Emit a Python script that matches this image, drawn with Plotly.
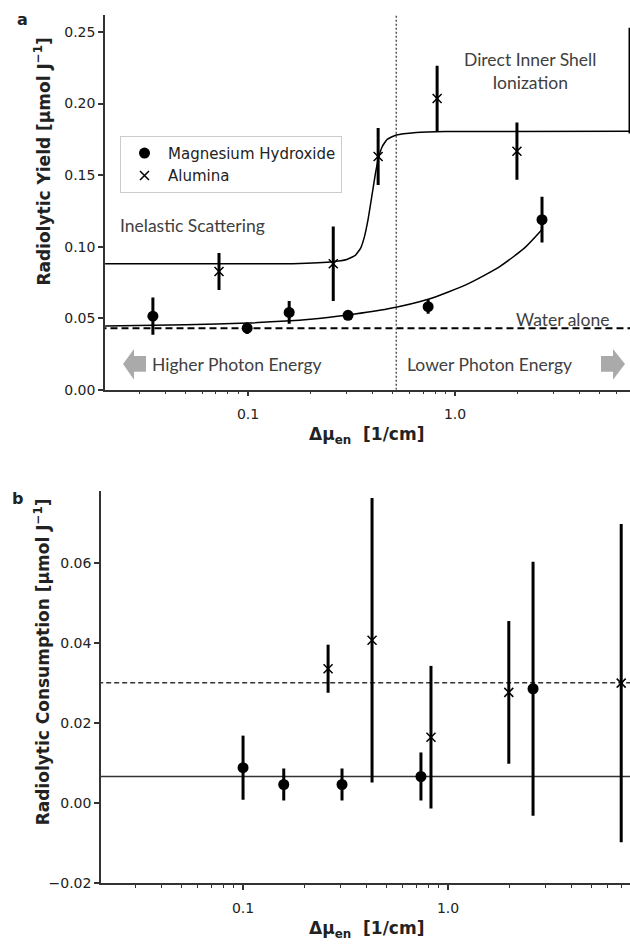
import plotly.graph_objects as go

W, H = 630, 947

# ---------------- data (panel a) ----------------
mg_x = [0.0347, 0.099, 0.158, 0.304, 0.741, 2.63]
mg_y = [0.0514, 0.043, 0.054, 0.052, 0.058, 0.1188]
mg_err = [0.013, 0.004, 0.008, 0.002, 0.005, 0.016]

al_x = [0.0724, 0.258, 0.425, 0.819, 1.99, 7.0]
al_y = [0.0826, 0.088, 0.163, 0.2035, 0.1667, 0.216]
al_err = [0.013, 0.026, 0.020, 0.023, 0.020, 0.037]

al_fit_x = [0.0204, 0.15, 0.25, 0.30, 0.33, 0.35, 0.365, 0.38, 0.395, 0.41, 0.425, 0.445, 0.47, 0.52, 0.65, 0.9, 7.0]
al_fit_y = [0.088, 0.088, 0.0893, 0.091, 0.094, 0.099, 0.107, 0.119, 0.134, 0.149, 0.161, 0.170, 0.175, 0.178, 0.1798, 0.1805, 0.1806]

mg_fit_x = [0.0204, 0.05, 0.1, 0.2, 0.304, 0.475, 0.741, 1.14, 1.65, 2.18, 2.63]
mg_fit_y = [0.0445, 0.0453, 0.0466, 0.0492, 0.0522, 0.0565, 0.0632, 0.0736, 0.0862, 0.0995, 0.1120]

water_y = 0.043
edge_x = 0.52

# ---------------- data (panel b) ----------------
mgb_x = [0.1, 0.158, 0.304, 0.738, 2.6]
mgb_y = [0.0089, 0.0047, 0.0047, 0.0067, 0.0286]
mgb_err = [0.008, 0.004, 0.004, 0.006, 0.0317]

alb_x = [0.26, 0.426, 0.826, 1.98, 7.0]
alb_y = [0.0336, 0.0407, 0.0165, 0.0277, 0.030]
alb_err = [0.006, 0.0355, 0.0178, 0.0178, 0.0397]

mgb_mean = 0.0067
alb_mean = 0.0301

line_x = [0.015, 10.0]

x_tickvals = [0.1, 1.0]
x_ticktext = ["0.1", "1.0"]
x_minor = [0.02, 0.03, 0.04, 0.05, 0.06, 0.07, 0.08, 0.09,
           0.2, 0.3, 0.4, 0.5, 0.6, 0.7, 0.8, 0.9,
           2, 3, 4, 5, 6, 7]
ya_ticks = [0.0, 0.05, 0.10, 0.15, 0.20, 0.25]
ya_text = ["0.00", "0.05", "0.10", "0.15", "0.20", "0.25"]
yb_ticks = [-0.02, 0.0, 0.02, 0.04, 0.06]
yb_text = ["\u22120.02", "0.00", "0.02", "0.04", "0.06"]


def px(x):
    return x / W


def py(y):
    return 1 - y / H


INK = "#222222"
AX = "#333333"
TXT = "#404040"
ERR = dict(type="data", thickness=3, width=0, color="black")

fig = go.Figure()

# ----- panel a -----
fig.add_trace(go.Scatter(x=line_x, y=[water_y, water_y], mode="lines",
                         line=dict(color="black", width=2, dash="7px,4px"),
                         showlegend=False, xaxis="x", yaxis="y", hoverinfo="skip"))
fig.add_trace(go.Scatter(x=[edge_x, edge_x], y=[0, 0.3], mode="lines",
                         line=dict(color="#555555", width=1.5, dash="2px,2px"),
                         showlegend=False, xaxis="x", yaxis="y", hoverinfo="skip"))
fig.add_trace(go.Scatter(x=al_fit_x, y=al_fit_y, mode="lines",
                         line=dict(color="black", width=1.5, shape="spline", smoothing=0.4),
                         showlegend=False, xaxis="x", yaxis="y"))
fig.add_trace(go.Scatter(x=mg_fit_x, y=mg_fit_y, mode="lines",
                         line=dict(color="black", width=1.5, shape="spline", smoothing=0.6),
                         showlegend=False, xaxis="x", yaxis="y"))
fig.add_trace(go.Scatter(x=mg_x, y=mg_y, mode="markers", name="Magnesium Hydroxide",
                         marker=dict(symbol="circle", size=11, color="black"),
                         error_y=dict(array=mg_err, **ERR),
                         cliponaxis=False, xaxis="x", yaxis="y"))
fig.add_trace(go.Scatter(x=al_x, y=al_y, mode="markers", name="Alumina",
                         marker=dict(symbol="x-thin", size=9, color="black",
                                     line=dict(color="black", width=1.5)),
                         error_y=dict(array=al_err, **ERR),
                         xaxis="x", yaxis="y"))

# ----- panel b -----
fig.add_trace(go.Scatter(x=line_x, y=[alb_mean, alb_mean], mode="lines",
                         line=dict(color="#333333", width=1.5, dash="5px,3px"),
                         showlegend=False, xaxis="x2", yaxis="y2", hoverinfo="skip"))
fig.add_trace(go.Scatter(x=line_x, y=[mgb_mean, mgb_mean], mode="lines",
                         line=dict(color="#333333", width=1.5),
                         showlegend=False, xaxis="x2", yaxis="y2", hoverinfo="skip"))
fig.add_trace(go.Scatter(x=mgb_x, y=mgb_y, mode="markers", name="Magnesium Hydroxide",
                         marker=dict(symbol="circle", size=11, color="black"),
                         error_y=dict(array=mgb_err, **ERR),
                         showlegend=False, xaxis="x2", yaxis="y2"))
fig.add_trace(go.Scatter(x=alb_x, y=alb_y, mode="markers", name="Alumina",
                         marker=dict(symbol="x-thin", size=9, color="black",
                                     line=dict(color="black", width=1.5)),
                         error_y=dict(array=alb_err, **ERR),
                         showlegend=False, xaxis="x2", yaxis="y2"))

tickfont = dict(family="DejaVu Sans", size=14, color=INK)
common_x = dict(type="log", showline=True, linecolor=AX, linewidth=1.5,
                ticks="outside", ticklen=5, tickwidth=1.5, tickcolor=AX,
                tickvals=x_tickvals, ticktext=x_ticktext, tickfont=tickfont,
                showgrid=False, zeroline=False, ticklabelstandoff=6,
                minor=dict(ticks="outside", ticklen=3, tickwidth=1, tickcolor=AX,
                           tickvals=x_minor, showgrid=False))
common_y = dict(showline=True, linecolor=AX, linewidth=1.5,
                ticks="outside", ticklen=5, tickwidth=1.5, tickcolor=AX,
                tickfont=tickfont, showgrid=False, zeroline=False)

fig.update_layout(
    width=W, height=H,
    margin=dict(l=0, r=0, t=0, b=0),
    paper_bgcolor="white", plot_bgcolor="white",
    font=dict(family="DejaVu Sans", color=INK),
    xaxis=dict(domain=[px(105), 1.0], range=[-1.691, 0.845], anchor="y", **common_x),
    yaxis=dict(domain=[py(393), py(15)], range=[0, 0.262], anchor="x",
               tickvals=ya_ticks, ticktext=ya_text, **common_y),
    xaxis2=dict(domain=[px(101), 1.0], range=[-1.693, 0.888], anchor="y2", **common_x),
    yaxis2=dict(domain=[py(891), py(495)], range=[-0.02, 0.078], anchor="x2",
                tickvals=yb_ticks, ticktext=yb_text, **common_y),
    legend=dict(x=px(120), y=py(137), xanchor="left", yanchor="top",
                bgcolor="white", bordercolor="#cccccc", borderwidth=1,
                font=dict(family="DejaVu Sans", size=15, color=INK),
                itemwidth=37, tracegroupgap=0),
    showlegend=True,
)

ann = []
def label(text, x, y, size=15, color=INK, bold=False, angle=0, font="DejaVu Sans", align="center"):
    t = f"<b>{text}</b>" if bold else text
    ann.append(dict(text=t, x=px(x), y=py(y), xref="paper", yref="paper",
                    showarrow=False, textangle=angle, align=align,
                    xanchor="center", yanchor="middle",
                    font=dict(family=font, size=size, color=color)))

label("a", 22, 20, size=16, bold=True)
label("b", 17, 503, size=16, bold=True)
label("Radiolytic Yield [μmol J<sup>−1</sup>]", 42, 163, size=17, bold=True, angle=-90)
label("Radiolytic Consumption [μmol J<sup>−1</sup>]", 42, 668, size=17, bold=True, angle=-90)
label("Δμ<sub>en</sub>  [1/cm]", 366, 439, size=17, bold=True)
label("Δμ<sub>en</sub>  [1/cm]", 366, 937, size=17, bold=True)

label("Direct Inner Shell<br>Ionization", 530, 72, size=17.5, color=TXT, font="Lato")
label("Inelastic Scattering", 192, 227, size=17.5, color=TXT, font="Lato")
label("Higher Photon Energy", 237, 368, size=17.5, color=TXT, font="Lato")
label("Lower Photon Energy", 489, 368, size=17.5, color=TXT, font="Lato")
label("Water alone", 562, 322, size=17.5, color=TXT, font="Lato")
fig.update_layout(annotations=ann)

# decorative block arrows (paper coords)
def arrow_path(pts):
    return "M " + " L ".join(f"{px(x):.5f},{py(y):.5f}" for x, y in pts) + " Z"

left_arrow = [(123, 367), (134, 352), (134, 359), (146, 359), (146, 375), (134, 375), (134, 383)]
right_arrow = [(625, 367), (613, 352), (613, 359), (601, 359), (601, 375), (613, 375), (613, 383)]
for pts in (left_arrow, right_arrow):
    fig.add_shape(type="path", path=arrow_path(pts), xref="paper", yref="paper",
                  fillcolor="#aaaaaa", line=dict(width=0))

fig.write_html("out.html")
